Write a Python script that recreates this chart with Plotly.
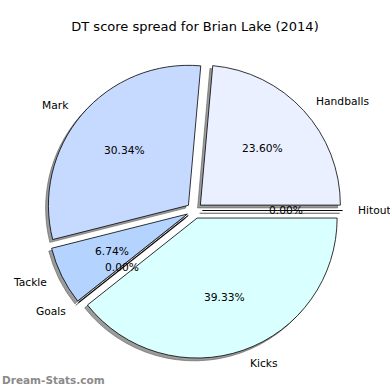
import math
import plotly.graph_objects as go

labels = ["Handballs", "Mark", "Tackle", "Goals", "Kicks", "Hitout"]
values = [63, 81, 18, 0, 105, 0]
colors = ["#eaf0ff", "#c6d9ff", "#b4d4ff", "#c0e0ff", "#d9ffff", "#e0ffe0"]
title_text = "DT score spread for Brian Lake (2014)"
watermark = "Dream-Stats.com"

W = H = 390
cx, cy = 194.5, 210.5    # pixel centre of pie
R = 140                  # pixel radius
pull = 0.057
shadow_off = 2.8
fs = 10.7

box = 2 * R * (1 + pull)
total = sum(values)
# plotly (counterclockwise): first slice spans clockwise from `rotation`;
# make first slice start at 3 o'clock going counterclockwise
rot = 90 - 360.0 * values[0] / total

def dom(dx=0.0, dy=0.0):
    x0 = (cx - box / 2 + dx) / W
    x1 = (cx + box / 2 + dx) / W
    y0 = 1 - (cy + box / 2 + dy) / H
    y1 = 1 - (cy - box / 2 + dy) / H
    return dict(x=[x0, x1], y=[y0, y1])

fig = go.Figure()
fig.add_trace(go.Pie(
    labels=labels, values=values, sort=False, direction="counterclockwise",
    rotation=rot, pull=[pull] * len(values), domain=dom(-shadow_off, shadow_off),
    marker=dict(colors=["rgba(90,90,90,0.6)"] * len(values),
                line=dict(color="rgba(90,90,90,0.6)", width=1)),
    textinfo="none", hoverinfo="skip", showlegend=False,
))
fig.add_trace(go.Pie(
    labels=labels, values=values, sort=False, direction="counterclockwise",
    rotation=rot, pull=[pull] * len(values), domain=dom(),
    marker=dict(colors=colors, line=dict(color="black", width=0.8)),
    textinfo="none", showlegend=False,
))

ann = []
start = 0.0
for lab, v in zip(labels, values):
    span = 360.0 * v / total
    mid = math.radians(start + span / 2)
    start += span
    ox, oy = pull * R * math.cos(mid), pull * R * math.sin(mid)
    px = cx + ox + 0.6 * R * math.cos(mid)
    py = cy - oy - 0.6 * R * math.sin(mid)
    ann.append(dict(x=px / W, y=1 - py / H, xref="paper", yref="paper",
                    text=f"{100 * v / total:.2f}%", showarrow=False,
                    xanchor="center", yanchor="middle",
                    font=dict(size=fs, color="black", family="DejaVu Sans")))
    lx = cx + ox + 1.1 * R * math.cos(mid)
    ly = cy - oy - 1.1 * R * math.sin(mid)
    ann.append(dict(x=lx / W, y=1 - ly / H, xref="paper", yref="paper",
                    text=lab, showarrow=False,
                    xanchor="left" if math.cos(mid) >= 0 else "right", yanchor="middle",
                    font=dict(size=fs, color="black", family="DejaVu Sans")))

ann.append(dict(x=0, y=1 - 380 / H, xref="paper", yref="paper", text="<b>" + watermark + "</b>",
                showarrow=False, xanchor="left", yanchor="middle",
                font=dict(size=10.5, color="#8a8a8a", family="DejaVu Sans")))

fig.update_layout(
    width=W, height=H, margin=dict(l=0, r=0, t=0, b=0),
    paper_bgcolor="white", plot_bgcolor="white",
    title=dict(text=title_text, x=0.5, xanchor="center", y=1 - 26 / H, yanchor="middle",
               font=dict(size=13, color="black", family="DejaVu Sans")),
    annotations=ann,
)
fig.write_html("out.html", config={"displayModeBar": False},
               post_script="document.body.style.margin='0';document.body.style.overflow='hidden';")
